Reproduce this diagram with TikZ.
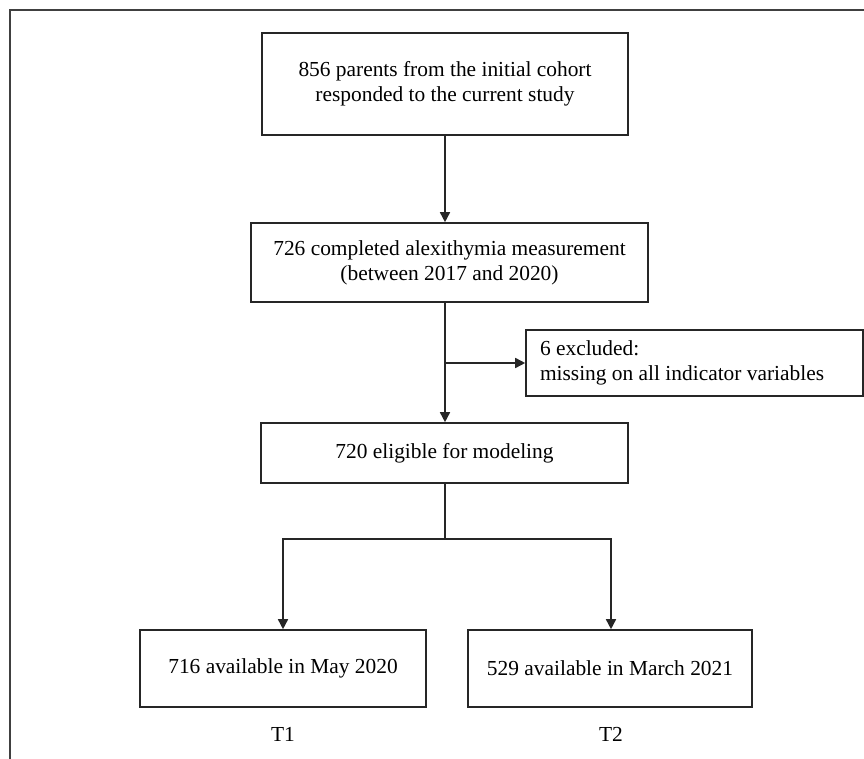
\documentclass[tikz,border=0pt]{standalone}
\usepackage{fontspec}
\setmainfont{Liberation Serif}
\usetikzlibrary{arrows.meta}
\begin{document}
\begin{tikzpicture}[x=1pt,y=-1pt,
  box/.style={draw=black!85,line width=1.6pt,align=center,inner sep=0pt,font=\fontsize{21.4}{25}\selectfont},
  lbl/.style={font=\fontsize{21.4}{25}\selectfont,inner sep=0pt},
  conn/.style={draw=black!85,line width=1.6pt},
  arr/.style={conn,-{Triangle[length=10pt,width=10pt]}}]
\useasboundingbox (0,0) rectangle (864,759);
\draw[draw=black!75,line width=1.6pt] (10,759) -- (10,10) -- (864,10);
\node[box,minimum width=366pt,minimum height=102pt] (b1) at (445,84)
  {856 parents from the initial cohort\\responded to the current study};
\node[box,minimum width=397pt,minimum height=79pt] (b2) at (449.5,262.5)
  {726 completed alexithymia measurement\\(between 2017 and 2020)};
\node[box,text width=309pt,align=flush left,inner xsep=14pt,minimum height=66pt] (ex) at (694.5,363)
  {6 excluded:\\missing on all indicator variables};
\node[box,minimum width=367pt,minimum height=60pt] (b3) at (444.5,453)
  {720 eligible for modeling};
\node[box,minimum width=286pt,minimum height=77pt] (b4) at (283,668.5)
  {716 available in May 2020};
\node[box,minimum width=284pt,minimum height=77pt] (b5) at (610,668.5)
  {529 available in March 2021};
\node[lbl] (t1) at (283,734) {T1};
\node[lbl] (t2) at (611,734) {T2};
\coordinate (j) at (445,363);
\coordinate (s) at (445,539);
\coordinate (sl) at (283,539);
\coordinate (sr) at (611,539);
\draw[arr] (445,0 |- b1.south) -- (445,0 |- b2.north);
\draw[arr] (445,0 |- b2.south) -- (445,0 |- b3.north);
\draw[arr] (j) -- (ex.west);
\draw[conn] (445,0 |- b3.south) -- (s);
\draw[arr] (s) -- (sl) -- (sl |- b4.north);
\draw[arr] (s) -- (sr) -- (sr |- b5.north);
\end{tikzpicture}
\end{document}
